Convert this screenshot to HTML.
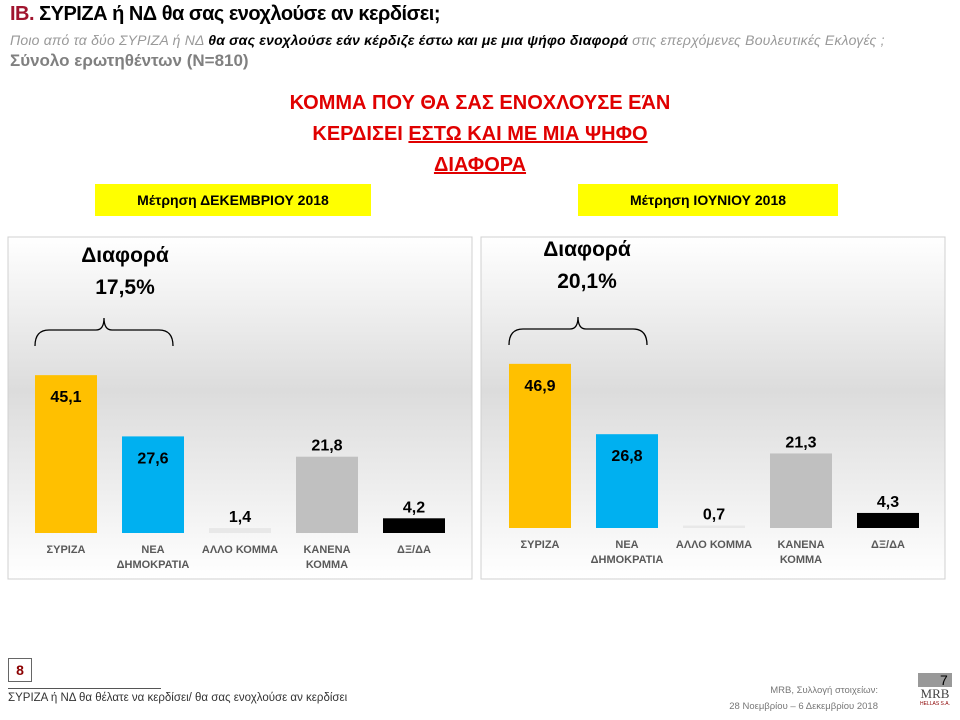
<!DOCTYPE html>
<html><head><meta charset="utf-8"><style>
body{margin:0;width:960px;height:720px;background:#fff;font-family:"Liberation Sans","DejaVu Sans",sans-serif;position:relative;overflow:hidden}
.abs{position:absolute}
</style></head><body>
<div class="abs" style="left:10px;top:3px;font-size:20px;font-weight:bold;color:#000;letter-spacing:-0.5px"><span style="color:#a0142e">IB.</span> ΣΥΡΙΖΑ ή ΝΔ θα σας ενοχλούσε αν κερδίσει;</div>
<div class="abs" style="left:10px;top:32px;font-size:14px;font-style:italic;color:#999;white-space:nowrap;letter-spacing:0.2px">Ποιο από τα δύο ΣΥΡΙΖΑ ή ΝΔ <b style="color:#000">θα σας ενοχλούσε εάν κέρδιζε έστω και με μια ψήφο διαφορά</b> στις επερχόμενες Βουλευτικές Εκλογές ;</div>
<div class="abs" style="left:10px;top:51px;font-size:17px;font-weight:bold;color:#808080">Σύνολο ερωτηθέντων (N=810)</div>
<div class="abs" style="left:180px;top:88px;width:600px;text-align:center;font-size:20px;font-weight:bold;line-height:31px;color:#e00000">ΚΟΜΜΑ ΠΟΥ ΘΑ ΣΑΣ ΕΝΟΧΛΟΥΣΕ ΕΆΝ<br>ΚΕΡΔΙΣΕΙ <u>ΕΣΤΩ ΚΑΙ ΜΕ ΜΙΑ ΨΗΦΟ</u><br><u>ΔΙΑΦΟΡΑ</u></div>
<div class="abs" style="left:95px;top:184px;width:276px;height:32px;background:#ffff00;font-size:14px;font-weight:bold;line-height:32px;text-align:center">Μέτρηση ΔΕΚΕΜΒΡΙΟΥ 2018</div>
<div class="abs" style="left:578px;top:184px;width:260px;height:32px;background:#ffff00;font-size:14px;font-weight:bold;line-height:32px;text-align:center">Μέτρηση ΙΟΥΝΙΟΥ 2018</div>
<svg class="abs" style="left:0;top:0" width="960" height="720">
<defs><linearGradient id="bg" x1="0" y1="0" x2="0" y2="1"><stop offset="0" stop-color="#fff"/><stop offset="0.45" stop-color="#dcdcdc"/><stop offset="1" stop-color="#fff"/></linearGradient></defs>
<g id="c1"></g><g id="c2"></g>
</svg>
<div class="abs" style="left:8px;top:658px;width:22px;height:22px;border:1px solid #666;font-size:14px;font-weight:bold;color:#8b0000;text-align:center;line-height:22px">8</div>
<div class="abs" style="left:8px;top:688px;width:153px;border-top:1px solid #555"></div>
<div class="abs" style="left:8px;top:692px;font-size:11.5px;color:#333">ΣΥΡΙΖΑ ή ΝΔ θα θέλατε να κερδίσει/ θα σας ενοχλούσε αν κερδίσει</div>
<div class="abs" style="left:680px;top:683px;width:198px;text-align:right;font-size:9.5px;color:#777;line-height:16px">MRB, Συλλογή στοιχείων:<br>28 Νοεμβρίου – 6 Δεκεμβρίου 2018</div>
<div class="abs" style="left:918px;top:673px;width:34px;height:40px">
<div style="background:#999;height:14px"></div><div style="font-family:'Liberation Serif',serif;font-size:13px;color:#444;text-align:center;line-height:14px">MRB</div><div style="font-size:5px;color:#8b0000;text-align:center">HELLAS S.A.</div></div>
<div class="abs" style="left:940px;top:672px;font-size:14px">7</div>
<script>
const categories=[["ΣΥΡΙΖΑ"],["ΝΕΑ","ΔΗΜΟΚΡΑΤΙΑ"],["ΑΛΛΟ ΚΟΜΜΑ"],["ΚΑΝΕΝΑ","ΚΟΜΜΑ"],["ΔΞ/ΔΑ"]];
const decValues=[45.1,27.6,1.4,21.8,4.2];
const junValues=[46.9,26.8,0.7,21.3,4.3];
const decDiff="17,5%";
const junDiff="20,1%";
const colors=["#ffc000","#00b0f0","#e8e8e8","#c0c0c0","#000000"];
const NS="http://www.w3.org/2000/svg";
function mk(g,t,a,txt){const e=document.createElementNS(NS,t);for(const k in a)e.setAttribute(k,a[k]);if(txt!=null)e.textContent=txt;g.appendChild(e);return e;}
function draw(gid,cfg,vals,diff){
 const g=document.getElementById(gid);
 const y=v=>cfg.base-v*3.5;
 const x=i=>cfg.x0+i*87;
 const p=mk(g,'rect',{x:cfg.bx,y:237,width:464,height:342,fill:'url(#bg)',stroke:'#d0d0d0'});
 
 vals.forEach((v,i)=>{
  const r=mk(g,'rect',{x:x(i)-31,y:y(v),width:62,height:cfg.base-y(v),fill:colors[i]});
  
  const s=v.toFixed(1).replace('.',',');
  const inside=i<2;
  const t=mk(g,'text',{x:x(i),y:inside?y(v)+27:y(v)-6,'text-anchor':'middle','font-size':16,'font-weight':'bold',fill:'#000'},s);
  
  categories[i].forEach((ln,j)=>{
   const c=mk(g,'text',{x:x(i),y:cfg.base+20+j*15,'text-anchor':'middle','font-size':11,'font-weight':'bold',fill:'#595959'},ln);
   
  });
 });
 const bl=x(0)-31,br=x(1)+20,bm=(bl+br)/2,top=cfg.brTop,bot=top+28;
 const b=mk(g,'path',{d:`M${bl},${bot} Q${bl},${top+12} ${bl+14},${top+12} L${bm-8},${top+12} Q${bm},${top+12} ${bm},${top} Q${bm},${top+12} ${bm+8},${top+12} L${br-14},${top+12} Q${br},${top+12} ${br},${bot}`,fill:'none',stroke:'#000','stroke-width':1.3});
 
 const d1=mk(g,'text',{x:cfg.dx,y:cfg.dy,'text-anchor':'middle','font-size':21,'font-weight':'bold',fill:'#000'},'Διαφορά');
 
 const d2=mk(g,'text',{x:cfg.dx,y:cfg.dy+32,'text-anchor':'middle','font-size':21,'font-weight':'bold',fill:'#000'},diff);
 
}
draw('c1',{bx:8,x0:66,base:533,brTop:318,dx:125,dy:262},decValues,decDiff);
draw('c2',{bx:481,x0:540,base:528,brTop:317,dx:587,dy:256},junValues,junDiff);
</script>
</body></html>
